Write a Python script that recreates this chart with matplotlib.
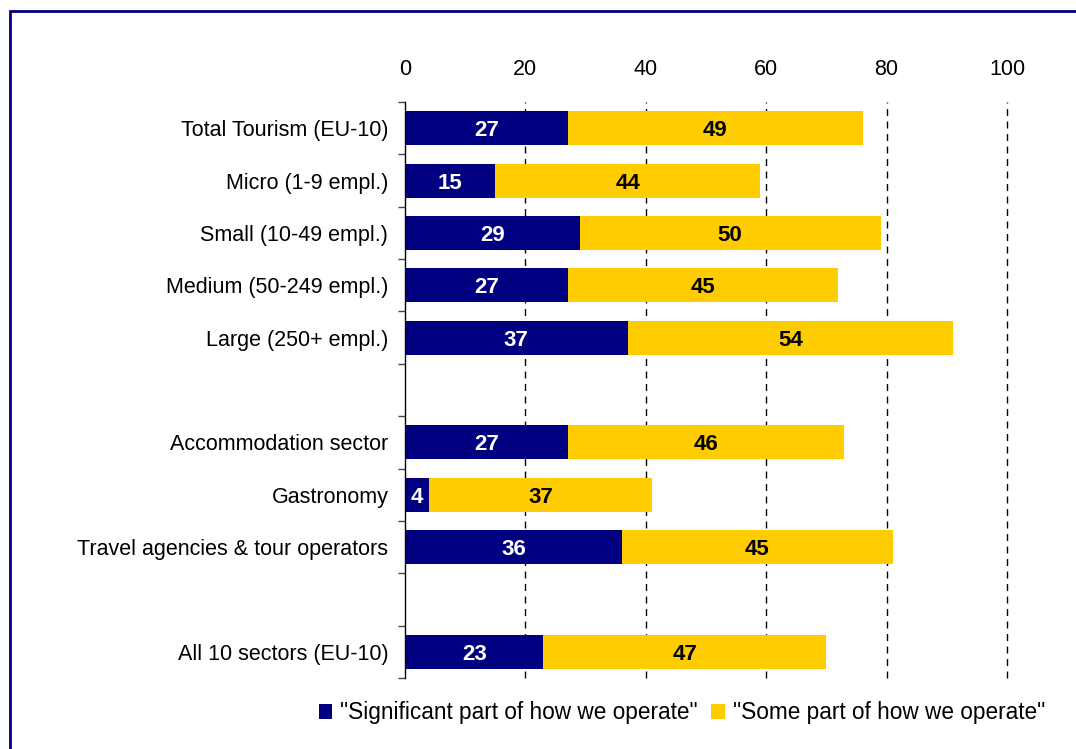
import matplotlib
matplotlib.use("Agg")
import matplotlib.pyplot as plt
from matplotlib.patches import Rectangle
import numpy as np

plt.rcParams['font.family'] = ['Liberation Sans', 'DejaVu Sans']

categories = [
    "Total Tourism (EU-10)",
    "Micro (1-9 empl.)",
    "Small (10-49 empl.)",
    "Medium (50-249 empl.)",
    "Large (250+ empl.)",
    "",
    "Accommodation sector",
    "Gastronomy",
    "Travel agencies & tour operators",
    "",
    "All 10 sectors (EU-10)",
]
significant = [27, 15, 29, 27, 37, None, 27, 4, 36, None, 23]
some_part = [49, 44, 50, 45, 54, None, 46, 37, 45, None, 47]
series_names = ['"Significant part of how we operate"', '"Some part of how we operate"']
x_ticks = [0, 20, 40, 60, 80, 100]

navy = "#000080"
yellow = "#FFCC00"

fig = plt.figure(figsize=(10.76, 7.49), dpi=100)
ax = fig.add_axes([405 / 1076, 1 - 678 / 749, (1007 - 405) / 1076, (678 - 102) / 749])

n = len(categories)
y = np.arange(n)
sig = np.array([np.nan if v is None else v for v in significant], dtype=float)
some = np.array([np.nan if v is None else v for v in some_part], dtype=float)

bar_h = 0.65
b1 = ax.barh(y, np.nan_to_num(sig), height=bar_h, color=navy, label=series_names[0], zorder=3)
b2 = ax.barh(y, np.nan_to_num(some), left=np.nan_to_num(sig), height=bar_h, color=yellow,
             label=series_names[1], zorder=3)

for i in range(n):
    if np.isnan(sig[i]):
        continue
    ax.text(sig[i] / 2, y[i], f"{int(sig[i])}", ha="center", va="center_baseline", color="white",
            fontsize=16, fontweight="bold", zorder=4)
    ax.text(sig[i] + some[i] / 2, y[i], f"{int(some[i])}", ha="center", va="center_baseline",
            color="black", fontsize=16, fontweight="bold", zorder=4)

ax.set_xlim(0, 100)
ax.set_ylim(n - 0.5, -0.5)

# x axis on top, labels only
ax.xaxis.tick_top()
ax.set_xticks(x_ticks)
ax.set_xticklabels([str(t) for t in x_ticks], fontsize=15.5)
ax.tick_params(axis="x", length=0, pad=16)

# category labels centred on rows, tick marks on row boundaries
ax.set_yticks(y)
ax.set_yticklabels(categories, fontsize=15.5)
ax.tick_params(axis="y", which="major", length=0, pad=12)
ax.set_yticks(np.arange(-0.5, n, 1.0), minor=True)
ax.tick_params(axis="y", which="minor", length=5, width=1, color="#444444", direction="out")

for xv in x_ticks[1:]:
    ax.axvline(xv, color="black", lw=1, ls=(0, (5, 4)), zorder=1, clip_on=False)

for side in ("top", "right", "bottom"):
    ax.spines[side].set_visible(False)
ax.spines["left"].set_color("black")
ax.spines["left"].set_linewidth(1)
ax.spines["left"].set_zorder(5)

fig.legend(handles=[b1, b2], labels=series_names, loc="center", bbox_to_anchor=(682 / 1076, 1 - 713 / 749),
           ncol=2, frameon=False, fontsize=16.3, handlelength=0.6, handleheight=0.6,
           handletextpad=0.35, columnspacing=0.6)

# outer frame
fig.patches.append(Rectangle((10 / 1076, -0.05), 1.2, 1 - 11 / 749 + 0.05, transform=fig.transFigure,
                             fill=False, edgecolor=navy, linewidth=2, zorder=0))

fig.savefig("out.png", dpi=100)
